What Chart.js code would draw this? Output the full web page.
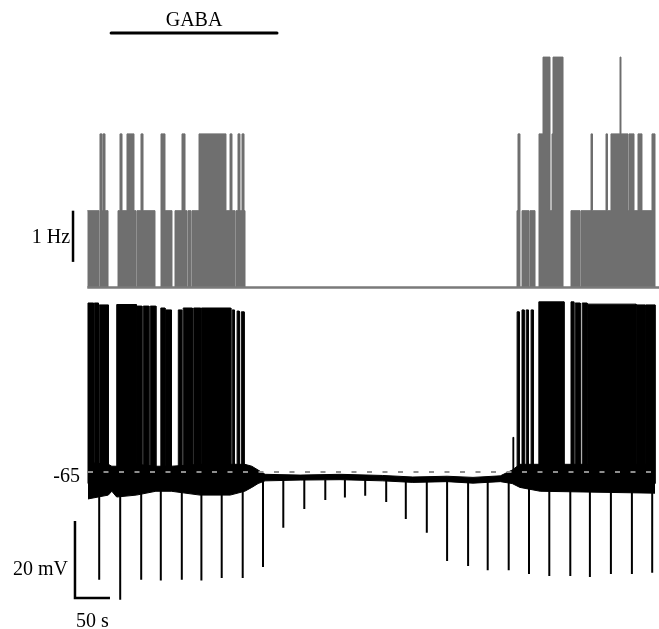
<!DOCTYPE html>
<html><head><meta charset="utf-8">
<script src="https://cdn.jsdelivr.net/npm/chart.js@4.4.1/dist/chart.umd.min.js"></script>
<style>html,body{margin:0;padding:0;background:#fff;}canvas{display:block;}</style>
</head><body>
<canvas id="c" width="659" height="629"></canvas>
<script>
// ---- data (time in s, firing rate in Hz, membrane potential in mV) ----
// firing-rate histogram: the rate holds from each change time until the next one
const freqChangeT  = [-1,15.7,17.1,20,21.4,24.3,28.6,42.9,45.7,48.6,55.7,65.7,68.6,70,75.7,78.6,95.7,104.3,110,120,124.3,134.3,138.6,141.4,142.9,147.1,148.6,158.6,197.1,202.9,205.7,210,211.4,214.3,217.1,220,222.9,224.3,
                      612.9,614.3,617.1,620,630,631.4,638.6,644.3,650,660,662.9,664.3,678.6,690,702.9,704.3,718.6,720.7,740,742.1,747.1,760,761.4,771.4,772.9,780,785.7,791.4,805.7,810];
const freqChangeHz = [1.5,0,3,1.5,3,1.5,0,1.5,3,1.5,3,1.5,0,1.5,3,1.5,0,3,1.5,0,1.5,3,1.5,0,1.5,0,1.5,3,1.5,3,1.5,0,1.5,3,1.5,3,1.5,0,
                      1.5,3,0,1.5,0,1.5,0,3,4.5,1.5,3,4.5,0,1.5,0,1.5,3,1.5,3,1.5,3,4.5,3,1.5,3,1.5,3,1.5,3,0];
// spike bursts (action-potential clusters)
const burstStart = [0,9,16,41,70,79,89,104,111,129,136,151,162,206,213,219,607,613,620,626,633,644,690,696,706,714,784,797];
const burstEnd   = [8,15,29,69,77,87,97,110,119,134,149,161,204,209,216,223,608,616,623,629,636,680,694,703,713,783,796,810];
const burstPeak  = [-21.1,-21.1,-21.6,-21.5,-21.9,-21.9,-21.9,-22.4,-22.9,-22.9,-22.4,-22.4,-22.4,-22.9,-23.2,-23.4,-56,-23.4,-22.9,-22.9,-22.9,-20.8,-20.8,-21.1,-21.1,-21.4,-21.6,-21.6];
// hyperpolarizing current-pulse responses
const pulseT   = [16,46,76,104,134,162,191,221,250,279,309,339,367,396,426,454,484,513,543,571,601,630,659,689,717,747,777,806];
const pulseMin = [-93,-98.2,-93,-93.2,-93,-93.2,-92.5,-92.5,-89.7,-79.5,-74.6,-72.3,-71.6,-71.2,-72.8,-77.2,-80.8,-88.1,-89.4,-90.5,-90.5,-91.5,-92,-92,-92.3,-91.5,-91.5,-91.2];
// membrane potential envelope (noise band) between spikes
const envT  = [0,29,34,41,69,97,119,160,203,224,234,243,253,303,360,421,464,513,550,589,606,617,646,810];
const envHi = [-62.5,-63,-63.5,-63.5,-63,-63.5,-63.5,-63,-63,-63,-63.5,-64.5,-65.6,-65.8,-65.6,-65.9,-66.3,-66.1,-66.4,-66.0,-64.5,-63,-63,-63];
const envLo = [-72,-71,-70,-71.5,-71,-70,-70,-71,-71,-70,-69,-68,-67.3,-67.1,-67.0,-67.3,-67.7,-67.5,-67.9,-67.5,-68,-69,-70,-70.5];
const restPotential = -65;
const gabaStart = 33, gabaEnd = 270;
const labels = {gaba: 'GABA', hz: '1 Hz', rest: '-65', mv: '20 mV', s: '50 s'};
const barMv = 20, barS = 50, barHz = 1;

// ---- build library datasets ----
const histData = freqChangeT.map((t, i) => ({x: t, y: freqChangeHz[i]}));
const spikeBase = -68;
const burstData = [];
burstStart.forEach((s, i) => {
  const e = burstEnd[i], p = burstPeak[i];
  burstData.push({x: s, y: spikeBase}, {x: s, y: p}, {x: e, y: p}, {x: e, y: spikeBase});
  if (i < burstStart.length - 1) burstData.push({x: (e + burstStart[i + 1]) / 2, y: null});
});
const pulseData = [];
pulseT.forEach((t, i) => {
  pulseData.push({x: t, y: -67}, {x: t, y: pulseMin[i]}, {x: t + 0.2, y: null});
});
const hiData = envT.map((t, i) => ({x: t, y: envHi[i]}));
const loData = envT.map((t, i) => ({x: t, y: envLo[i]}));
const mvBarX = -18.6, mvBarBottom = -97.7;
const scaleData = [{x: mvBarX, y: mvBarBottom + barMv}, {x: mvBarX, y: mvBarBottom}, {x: mvBarX + barS, y: mvBarBottom}];
const hzBarX = -21.4;
const hzData = [{x: hzBarX, y: 0.5}, {x: hzBarX, y: 0.5 + barHz}];

const common = {pointRadius: 0, tension: 0, spanGaps: false};
const annot = {
  id: 'annot',
  afterDatasetsDraw(chart) {
    const {ctx} = chart, x = chart.scales.x, yF = chart.scales.yF, yV = chart.scales.yV;
    ctx.save();
    ctx.fillStyle = '#000'; ctx.strokeStyle = '#000';
    ctx.font = '20px "Liberation Serif", "DejaVu Serif", serif';
    const gx0 = x.getPixelForValue(gabaStart), gx1 = x.getPixelForValue(gabaEnd);
    ctx.lineWidth = 3; ctx.lineCap = 'round';
    ctx.beginPath(); ctx.moveTo(gx0, 33); ctx.lineTo(gx1, 33); ctx.stroke();
    ctx.textBaseline = 'alphabetic';
    ctx.textAlign = 'center';
    ctx.fillText(labels.gaba, (gx0 + gx1) / 2, 26);
    ctx.textAlign = 'right';
    ctx.fillText(labels.hz, x.getPixelForValue(hzBarX) - 3, yF.getPixelForValue(1.0) + 7);
    ctx.fillText(labels.rest, x.getPixelForValue(-11.4), yV.getPixelForValue(restPotential) + 10);
    ctx.fillText(labels.mv, x.getPixelForValue(mvBarX) - 7, yV.getPixelForValue(mvBarBottom) - 23);
    ctx.textAlign = 'left';
    ctx.fillText(labels.s, x.getPixelForValue(mvBarX) + 1, yV.getPixelForValue(mvBarBottom) + 29);
    ctx.restore();
  }
};

new Chart(document.getElementById('c'), {
  type: 'line',
  data: {datasets: [
    {...common, data: [{x: 0, y: restPotential}, {x: 816, y: restPotential}], yAxisID: 'yV', borderColor: '#8e8e8e', borderWidth: 2, borderDash: [5, 10.5], fill: false},
    {...common, data: burstData, yAxisID: 'yV', borderColor: '#000', borderWidth: 1, backgroundColor: '#000', fill: {value: spikeBase}},
    {...common, data: pulseData, yAxisID: 'yV', borderColor: '#000', borderWidth: 2, fill: false},
    {...common, data: hiData, yAxisID: 'yV', borderColor: '#000', borderWidth: 1, backgroundColor: '#000', fill: '+1'},
    {...common, data: loData, yAxisID: 'yV', borderColor: '#000', borderWidth: 1, fill: false},
    {...common, data: scaleData, yAxisID: 'yV', borderColor: '#000', borderWidth: 2.5, fill: false},
    {...common, data: hzData, yAxisID: 'yF', borderColor: '#000', borderWidth: 2.5, fill: false},
    {...common, data: [{x: -1, y: 0}, {x: 816, y: 0}], yAxisID: 'yF', borderColor: '#7a7a7a', borderWidth: 2.5, fill: false},
    {...common, data: histData, yAxisID: 'yF', stepped: 'before', borderColor: '#6f6f6f', borderWidth: 1, backgroundColor: '#6f6f6f', fill: 'origin'}
  ]},
  options: {
    responsive: false, animation: false, devicePixelRatio: 1, events: [],
    layout: {padding: 0},
    plugins: {legend: {display: false}, tooltip: {enabled: false}, title: {display: false}},
    scales: {
      x: {type: 'linear', display: false, min: -125.714, max: 815.714},
      yF: {type: 'linear', display: false, min: -6.670, max: 5.615},
      yV: {type: 'linear', display: false, min: -105.779, max: 57.597}
    }
  },
  plugins: [annot]
});
</script>
</body></html>
